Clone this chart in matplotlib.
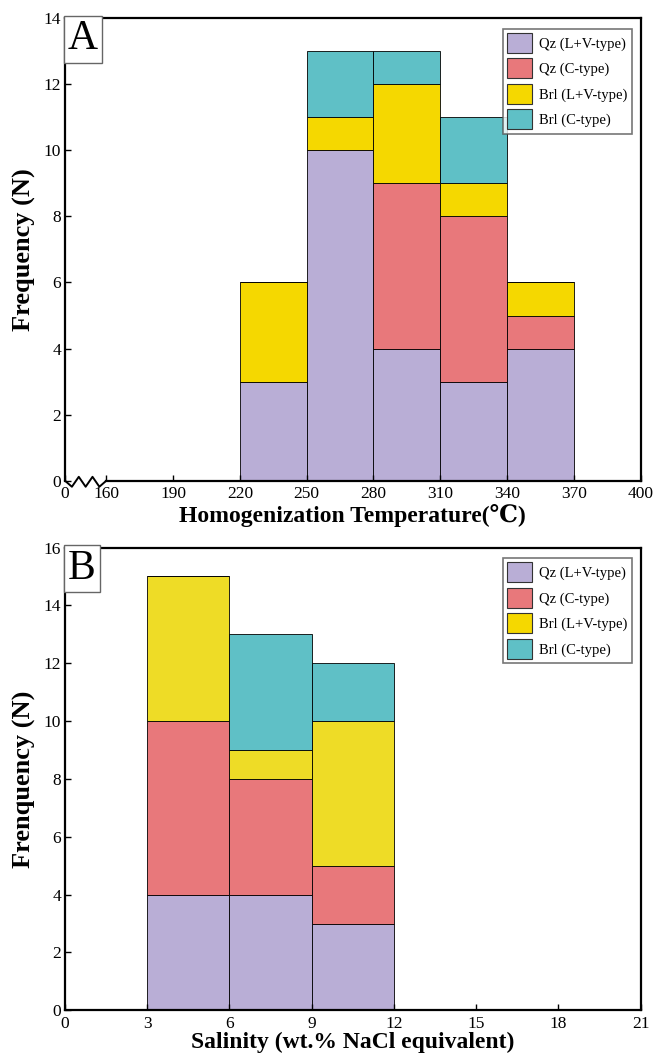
import numpy as np
import matplotlib
matplotlib.use("Agg")
import matplotlib.pyplot as plt
from matplotlib.patches import Patch

plt.rcParams['font.family'] = ['Liberation Serif', 'DejaVu Serif']

series = ["Qz (L+V-type)", "Qz (C-type)", "Brl (L+V-type)", "Brl (C-type)"]

# homogenization temperature bins (left edges, width 30)
th_bins = [220, 250, 280, 310, 340]
th_qz_lv = [3, 10, 4, 3, 4]
th_qz_c = [0, 0, 5, 5, 1]
th_brl_lv = [3, 1, 3, 1, 1]
th_brl_c = [0, 2, 1, 2, 0]
th_ticks = [160, 190, 220, 250, 280, 310, 340, 370, 400]

# salinity bins (left edges, width 3)
sal_bins = [3, 6, 9]
sal_qz_lv = [4, 4, 3]
sal_qz_c = [6, 4, 2]
sal_brl_lv = [5, 1, 5]
sal_brl_c = [0, 4, 2]
sal_ticks = [0, 3, 6, 9, 12, 15, 18, 21]

colors_a = ["#b9aed6", "#e8787b", "#f5d800", "#5fc0c6"]
colors_b = ["#b9aed6", "#e8787b", "#eedc26", "#5fc0c6"]

fig = plt.figure(figsize=(6.57, 10.59), dpi=100)
ax1 = fig.add_axes([0.099, 0.546, 0.876, 0.437])
ax2 = fig.add_axes([0.099, 0.046, 0.876, 0.437])


def stack(ax, bins, width, layers, colors):
    bottom = np.zeros(len(bins))
    for vals, c in zip(layers, colors):
        vals = np.array(vals, dtype=float)
        ax.bar(bins, vals, width=width, bottom=bottom, align='edge',
               color=c, edgecolor='black', linewidth=0.6)
        bottom += vals


def style(ax, label):
    for s in ax.spines.values():
        s.set_linewidth(1.6)
    ax.tick_params(direction='in', length=4, width=1, labelsize=12.5,
                   top=False, right=False, pad=3)
    ax.tick_params(axis='x', pad=4)
    ax.text(0.005, 0.996, label, transform=ax.transAxes, fontsize=30,
            ha='left', va='top',
            bbox=dict(boxstyle='square,pad=0.1', fc='white', ec='#666666', lw=1))
    handles = [Patch(facecolor=c, edgecolor='#333333', lw=0.8) for c in colors_a]
    leg = ax.legend(handles, series, loc='upper right', fontsize=10.5,
                    frameon=True, fancybox=False, edgecolor='#555555',
                    handlelength=1.7, handleheight=1.7, borderpad=0.3,
                    labelspacing=0.4, handletextpad=0.5,
                    bbox_to_anchor=(0.998, 0.993))
    leg.get_frame().set_linewidth(1.2)


# panel A: broken x axis between 0 and 160
stack(ax1, th_bins, 30, [th_qz_lv, th_qz_c, th_brl_lv, th_brl_c], colors_a)
x0 = 160 - 18.5
ax1.set_xlim(x0, 400)
ax1.set_ylim(0, 14)
ax1.set_xticks([x0] + th_ticks)
ax1.set_xticklabels(["0"] + [str(t) for t in th_ticks])
ax1.set_yticks(range(0, 15, 2))
ax1.spines['bottom'].set_bounds(160, 400)
zx = np.linspace(x0, 160, 7)
zy = np.array([0, -0.18, 0.12, -0.18, 0.12, -0.18, 0])
ax1.plot(zx, zy, color='black', lw=1.4, clip_on=False, zorder=5)
style(ax1, "A")
ax1.set_xlabel("Homogenization Temperature(℃)", fontsize=17, fontweight='bold',
               labelpad=1)
ax1.set_ylabel("Frequency (N)", fontsize=19, fontweight='bold', labelpad=5)

# panel B: salinity
stack(ax2, sal_bins, 3, [sal_qz_lv, sal_qz_c, sal_brl_lv, sal_brl_c], colors_b)
ax2.set_xlim(0, 21)
ax2.set_ylim(0, 16)
ax2.set_xticks(sal_ticks)
ax2.set_yticks(range(0, 17, 2))
style(ax2, "B")
ax2.set_xlabel("Salinity (wt.% NaCl equivalent)", fontsize=17, fontweight='bold',
               labelpad=0)
ax2.set_ylabel("Frenquency (N)", fontsize=19, fontweight='bold', labelpad=5)

fig.savefig("out.png", dpi=100)
